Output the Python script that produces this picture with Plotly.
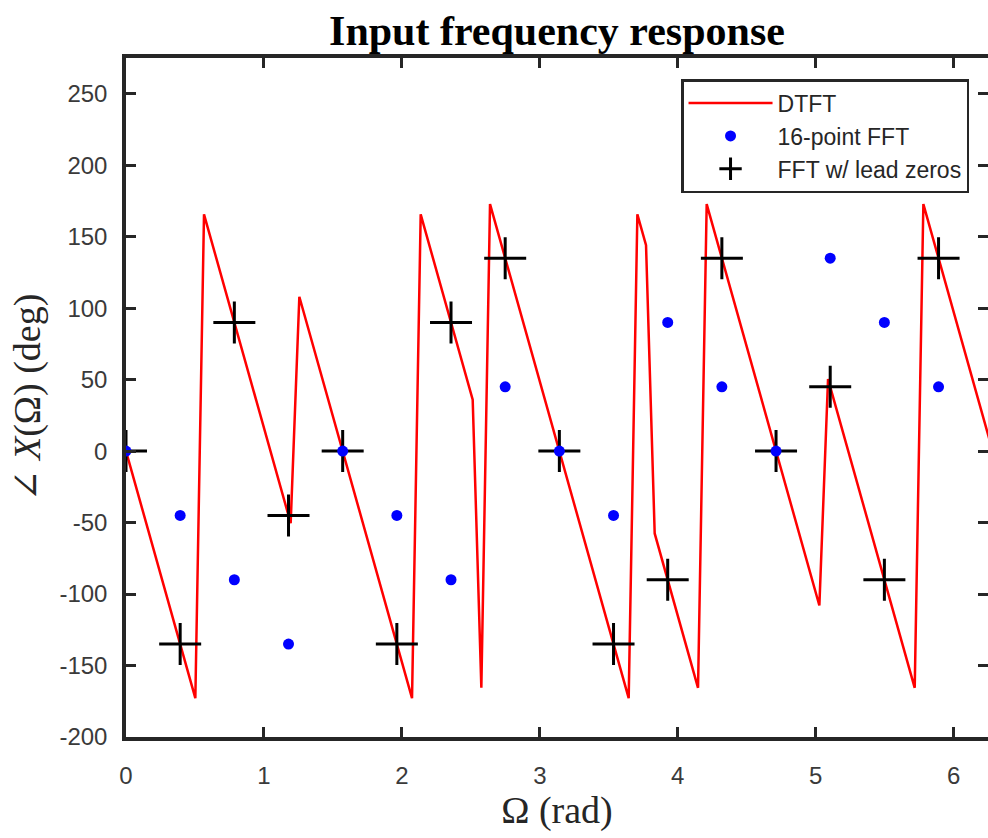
import plotly.graph_objects as go

# DTFT phase (vertices of the plotted polyline), rad / deg
dtft_omega = [0.0, 0.5027, 0.5655, 1.1938, 1.2566, 2.0735, 2.1363, 2.5133, 2.5761,
              2.6389, 3.6442, 3.7071, 3.7699, 3.8327, 4.1469, 4.2097, 5.0265,
              5.0894, 5.7177, 5.7805, 6.2832]
dtft_phase = [0.0, -172.8, 165.6, -50.4, 108.0, -172.8, 165.6, 36.0, -165.6,
              172.8, -172.8, 165.6, 144.0, -57.6, -165.6, 172.8, -108.0,
              50.4, -165.6, 172.8, 0.0]

# FFT bin frequencies
fft_omega = [0.0, 0.3927, 0.7854, 1.1781, 1.5708, 1.9635, 2.3562, 2.7489,
             3.1416, 3.5343, 3.9270, 4.3197, 4.7124, 5.1051, 5.4978, 5.8905]
fft16_phase = [0, -45, -90, -135, 0, -45, -90, 45, 0, -45, 90, 45, 0, 135, 90, 45]
fft_lead_phase = [0, -135, 90, -45, 0, -135, 90, 135, 0, -135, -90, 135, 0, 45, -90, 135]

x_ticks = [0, 1, 2, 3, 4, 5, 6]
y_ticks = [-200, -150, -100, -50, 0, 50, 100, 150, 200, 250]
y_ticktext = ["-200", "-150", "-100", "-50", "0", "50", "100", "150", "200", "250"]

AX = "#262626"
SANS = "Liberation Sans, Arial, sans-serif"
SERIF = "Liberation Serif, DejaVu Serif, Times New Roman, serif"

fig = go.Figure()
fig.add_trace(go.Scatter(x=dtft_omega, y=dtft_phase, mode="lines", name="DTFT",
                         line=dict(color="#ff0000", width=2.5),
                         legendgroup="a", legendrank=1))
fig.add_trace(go.Scatter(x=fft_omega, y=fft_lead_phase, mode="markers",
                         name="FFT w/ lead zeros",
                         marker=dict(symbol="cross-thin", size=30, color="black",
                                     line=dict(color="black", width=3)),
                         legendgroup="c", legendrank=3))
fig.add_trace(go.Scatter(x=fft_omega, y=fft16_phase, mode="markers",
                         name="16-point FFT",
                         marker=dict(symbol="circle", size=11, color="#0000ff"),
                         legendgroup="b", legendrank=2))
fig.add_trace(go.Scatter(x=[None], y=[None], yaxis="y2", showlegend=False,
                         hoverinfo="skip"))

fig.update_layout(
    width=988, height=838,
    margin=dict(l=126, r=0, t=58, b=101),
    paper_bgcolor="white", plot_bgcolor="white",
    showlegend=True,
    title=dict(text="<b>Input frequency response</b>",
               font=dict(family=SERIF, size=42, color="black"),
               x=0.5, xref="paper", xanchor="center",
               y=1 - 30 / 838, yref="container", yanchor="middle"),
    xaxis=dict(range=[0, 6.249], tickvals=x_ticks, ticks="inside", ticklen=10,
               tickwidth=3, tickcolor=AX, showline=True, linewidth=3.5,
               linecolor=AX, mirror="ticks", showgrid=False, zeroline=False,
               tickfont=dict(family=SANS, size=24, color="#3a3a3a"),
               ticklabelstandoff=14,
               title=dict(text="Ω (rad)", standoff=10,
                          font=dict(family=SERIF, size=38, color="#262626"))),
    yaxis=dict(range=[-200, 275], tickvals=y_ticks, ticktext=y_ticktext,
               ticks="inside", ticklen=10,
               tickwidth=3, tickcolor=AX, showline=True, linewidth=3.5,
               linecolor=AX, mirror=False, showgrid=False, zeroline=False,
               tickfont=dict(family=SANS, size=24, color="#3a3a3a"),
               ticklabelstandoff=10,
               title=dict(text="∠ <i>X</i>(Ω) (deg)", standoff=8,
                          font=dict(family=SERIF, size=38, color="#262626"))),
    yaxis2=dict(range=[-200, 275], tickvals=y_ticks, ticks="inside", ticklen=10,
                tickwidth=3, tickcolor=AX, overlaying="y", side="right",
                showline=False, showgrid=False, zeroline=False,
                showticklabels=False),
    legend=dict(x=0.978, y=0.969, xanchor="right", yanchor="top",
                bgcolor="white", bordercolor=AX, borderwidth=2.5,
                font=dict(family=SANS, size=23, color="#262626"),
                itemwidth=84, tracegroupgap=0, traceorder="normal"),
)

fig.write_html("out.html")
